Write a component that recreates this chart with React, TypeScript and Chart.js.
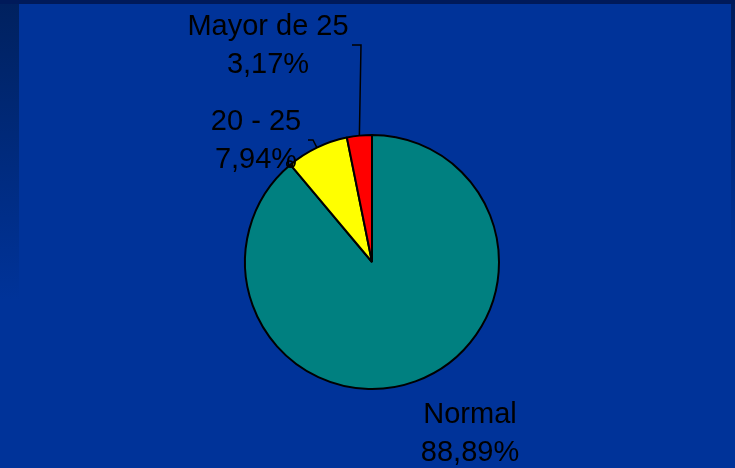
import React, { useEffect, useRef } from "react";
import { Chart, registerables } from "chart.js";

Chart.register(...registerables);

// ---- data ----
const categories = ["Normal", "20 - 25", "Mayor de 25"];
const values = [88.89, 7.94, 3.17];
const valueLabels = ["88,89%", "7,94%", "3,17%"];
const sliceColors = ["#008080", "#ffff00", "#ff0000"];

// ---- layout (label placement, not data) ----
const labelPos = [
  { x: 470, y: 423 },
  { x: 256, y: 130 },
  { x: 268, y: 35 },
];
// elbow points of leader lines (null = no leader)
const leaderElbows: (number[][] | null)[] = [
  null,
  [
    [313, 140],
    [308, 140],
  ],
  [
    [361, 45],
    [352, 45],
  ],
];

const W = 735;
const H = 468;

const backgroundPlugin = {
  id: "bgPlugin",
  beforeDraw(chart: any) {
    const ctx = chart.ctx as CanvasRenderingContext2D;
    ctx.save();
    ctx.fillStyle = "#003399";
    ctx.fillRect(0, 0, W, H);
    // left strip gradient
    const gl = ctx.createLinearGradient(0, 4, 0, 300);
    gl.addColorStop(0, "#00215f");
    gl.addColorStop(1, "#003399");
    ctx.fillStyle = gl;
    ctx.fillRect(0, 4, 19, 300);
    // right strip gradient
    const gr = ctx.createLinearGradient(0, 4, 0, 260);
    gr.addColorStop(0, "#001c5c");
    gr.addColorStop(1, "#003399");
    ctx.fillStyle = gr;
    ctx.fillRect(731, 4, 4, 260);
    // top strip
    ctx.fillStyle = "#001a5a";
    ctx.fillRect(0, 0, W, 4);
    ctx.restore();
  },
};

const labelPlugin = {
  id: "labelPlugin",
  afterDatasetsDraw(chart: any) {
    const ctx = chart.ctx as CanvasRenderingContext2D;
    const meta = chart.getDatasetMeta(0);
    ctx.save();
    ctx.strokeStyle = "#000000";
    ctx.lineWidth = 1.5;
    meta.data.forEach((arc: any, i: number) => {
      const { x, y, startAngle, endAngle, outerRadius } = arc.getProps(
        ["x", "y", "startAngle", "endAngle", "outerRadius"],
        true
      );
      const mid = (startAngle + endAngle) / 2;
      const px = x + Math.cos(mid) * outerRadius;
      const py = y + Math.sin(mid) * outerRadius;
      const elbows = leaderElbows[i];
      if (elbows) {
        ctx.beginPath();
        ctx.moveTo(px, py);
        elbows.forEach((p) => ctx.lineTo(p[0], p[1]));
        ctx.stroke();
      }
    });
    // small marker at the boundary between Normal and 20 - 25
    const a0: any = meta.data[0];
    if (a0) {
      const { x, y, endAngle, outerRadius } = a0.getProps(
        ["x", "y", "endAngle", "outerRadius"],
        true
      );
      ctx.beginPath();
      ctx.arc(
        x + Math.cos(endAngle) * (outerRadius + 1),
        y + Math.sin(endAngle) * (outerRadius + 1),
        3,
        0,
        Math.PI * 2
      );
      ctx.stroke();
    }
    ctx.fillStyle = "#000000";
    ctx.font = "29px 'Liberation Sans', Arial, sans-serif";
    ctx.textAlign = "center";
    ctx.textBaseline = "alphabetic";
    categories.forEach((c, i) => {
      const p = labelPos[i];
      ctx.fillText(c, p.x, p.y);
      ctx.fillText(valueLabels[i], p.x, p.y + 38);
    });
    ctx.restore();
  },
};

export default function App() {
  const ref = useRef<HTMLCanvasElement | null>(null);
  useEffect(() => {
    document.body.style.margin = "0";
    if (!ref.current) return;
    const chart = new Chart(ref.current, {
      type: "pie",
      data: {
        labels: categories,
        datasets: [
          {
            data: values,
            backgroundColor: sliceColors,
            borderColor: "#000000",
            borderWidth: 2,
            hoverBorderWidth: 2,
            hoverOffset: 0,
          },
        ],
      },
      options: {
        animation: false,
        responsive: false,
        devicePixelRatio: 1,
        events: [],
        layout: { padding: { left: 244, right: 235, top: 134, bottom: 78 } },
        plugins: {
          legend: { display: false },
          tooltip: { enabled: false },
        },
      },
      plugins: [backgroundPlugin, labelPlugin],
    });
    return () => chart.destroy();
  }, []);
  return (
    <canvas
      ref={ref}
      width={W}
      height={H}
      style={{ display: "block", width: W, height: H }}
    />
  );
}
